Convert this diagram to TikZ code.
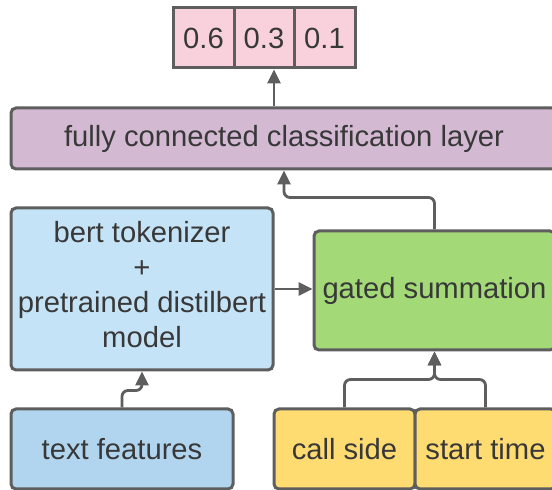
\documentclass[tikz,border=0pt]{standalone}
\usepackage{fontspec}
\setmainfont{Liberation Sans}
\usetikzlibrary{arrows.meta}

\definecolor{edgegray}{HTML}{5E5E5E}
\definecolor{textgray}{HTML}{383838}
\definecolor{probpink}{HTML}{F8D1DD}
\definecolor{fcpurple}{HTML}{D3BAD2}
\definecolor{bertblue}{HTML}{C5E3F6}
\definecolor{featblue}{HTML}{B1D5EF}
\definecolor{gatedgreen}{HTML}{A3D977}
\definecolor{metayellow}{HTML}{FFDC71}

\begin{document}
\begin{tikzpicture}[x=0.5pt,y=-0.5pt,
					every node/.style = {font=\fontsize{14.6}{17.5}\selectfont, text=textgray, align=center, inner sep=0pt}]

\tikzstyle{box}=[draw=edgegray, line width=1.5pt, rounded corners=2.5pt]
\tikzstyle{prob}=[box, fill=probpink, rounded corners=0pt, minimum width=30pt, minimum height=30pt]
\tikzstyle{link}=[draw=edgegray, line width=1.4pt, rounded corners=3pt, -{Triangle[length=7pt,width=6.5pt]}]

\clip (0,0) rectangle (552,490);

% output probabilities
\node[prob, minimum width=30.5pt] (p1) at (203.5,38) {0.6};
\node[prob] (p2) at (264,38) {0.3};
\node[prob, minimum width=30.5pt] (p3) at (324.5,38) {0.1};

\node[box, fill=fcpurple, minimum width=273pt, minimum height=30.5pt] (fc) at (284,138.5) {fully connected classification layer};
\node[box, fill=bertblue, minimum width=131pt, minimum height=81pt, text depth=4.5pt] (bert) at (142,289) {bert tokenizer\\+\\pretrained distilbert\\model};
\node[box, fill=gatedgreen, minimum width=120.5pt, minimum height=59.5pt] (gated) at (434.5,290.5) {gated summation};

% inputs
\node[box, fill=featblue, minimum width=111pt, minimum height=40pt] (tf) at (122,449) {text features};
\node[box, fill=metayellow, minimum width=70.5pt, minimum height=40pt] (cs) at (344.5,449) {call side};
\node[box, fill=metayellow, minimum width=70.5pt, minimum height=40pt] (st) at (485.5,449) {start time};

\coordinate (tap) at (274,88);
\draw[link] (fc.north -| tap) -- (p2.south -| tap);
\draw[link] (gated.north) -- ++(0,-32) -| (fc.south);
\draw[link] (bert.east) -- (bert.east -| gated.west);
\draw[link] (tf.north) -- ++(0,-17) -| (bert.south);
\draw[link] (cs.north) -- ++(0,-28) -| (gated.south);
\draw[link] (st.north) -- ++(0,-28) -| (gated.south);
\end{tikzpicture}
\end{document}
